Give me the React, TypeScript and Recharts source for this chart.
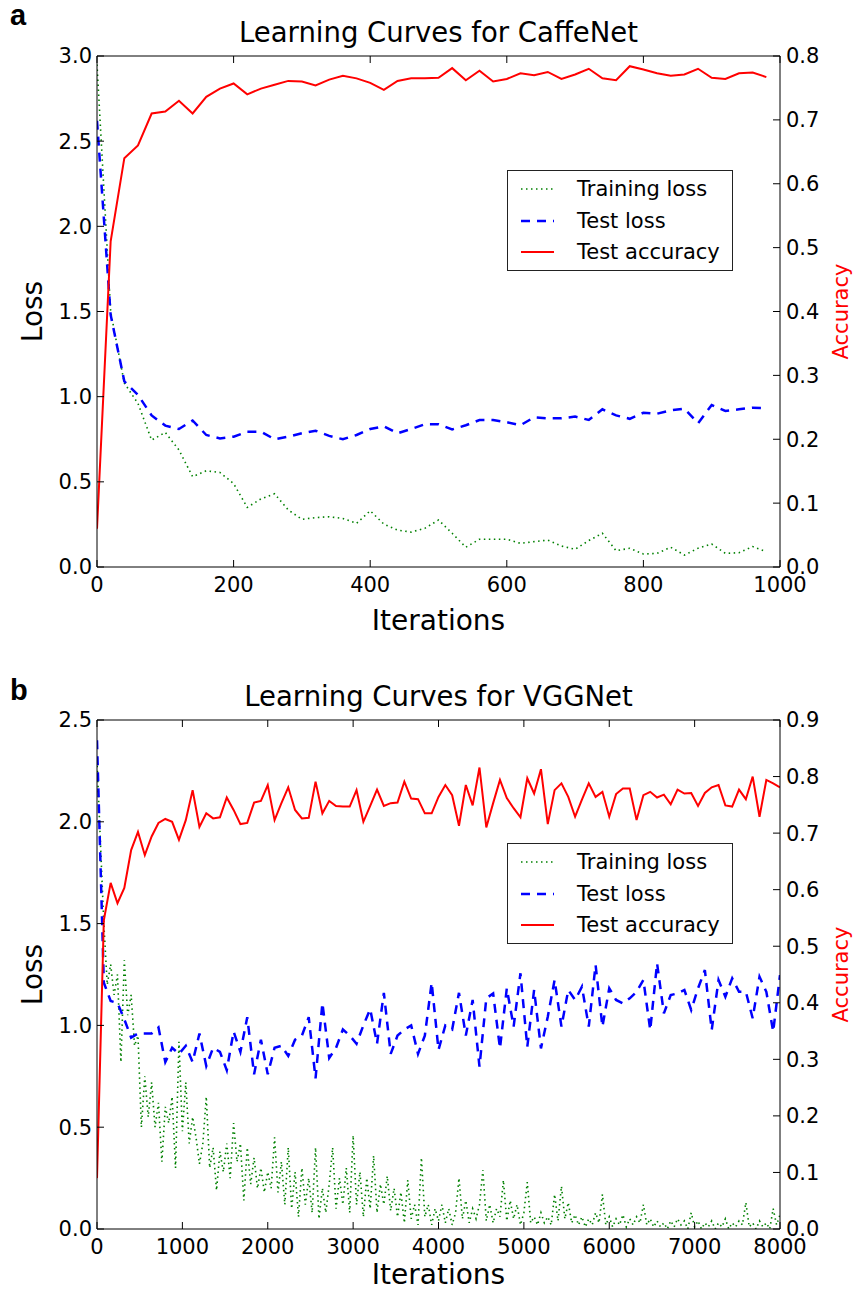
import React from 'react';
import { LineChart, Line, XAxis, YAxis, Legend, Label } from 'recharts';

const FONT = "'DejaVu Sans', 'Bitstream Vera Sans', sans-serif";

// ---------- Panel a: CaffeNet ----------
const caffeIter = [0, 20, 40, 60, 80, 100, 120, 140, 160, 180, 200, 220, 240, 260, 280, 300, 320, 340, 360, 380, 400, 420, 440, 460, 480, 500, 520, 540, 560, 580, 600, 620, 640, 660, 680, 700, 720, 740, 760, 780, 800, 820, 840, 860, 880, 900, 920, 940, 960, 980];
const caffeTrainLoss = [2.95, 1.5, 1.08, 0.96, 0.745, 0.79, 0.687, 0.53, 0.565, 0.555, 0.49, 0.35, 0.4, 0.43, 0.335, 0.28, 0.29, 0.295, 0.285, 0.256, 0.33, 0.252, 0.217, 0.205, 0.227, 0.276, 0.198, 0.116, 0.163, 0.163, 0.163, 0.139, 0.149, 0.158, 0.123, 0.104, 0.155, 0.198, 0.096, 0.11, 0.076, 0.08, 0.116, 0.07, 0.11, 0.135, 0.08, 0.084, 0.12, 0.09];
const caffeTestLoss = [2.62, 1.48, 1.09, 1.01, 0.89, 0.83, 0.81, 0.86, 0.775, 0.755, 0.765, 0.794, 0.794, 0.75, 0.765, 0.785, 0.8, 0.77, 0.75, 0.775, 0.81, 0.826, 0.785, 0.81, 0.838, 0.838, 0.808, 0.832, 0.863, 0.863, 0.85, 0.832, 0.879, 0.873, 0.873, 0.883, 0.863, 0.926, 0.89, 0.87, 0.906, 0.9, 0.92, 0.93, 0.844, 0.951, 0.916, 0.926, 0.935, 0.932];
const caffeAcc = [0.06, 0.51, 0.64, 0.66, 0.71, 0.713, 0.73, 0.71, 0.736, 0.749, 0.757, 0.74, 0.749, 0.755, 0.761, 0.76, 0.754, 0.763, 0.769, 0.765, 0.758, 0.747, 0.761, 0.765, 0.765, 0.766, 0.781, 0.762, 0.777, 0.76, 0.764, 0.773, 0.77, 0.775, 0.764, 0.771, 0.78, 0.765, 0.762, 0.784, 0.779, 0.773, 0.769, 0.771, 0.78, 0.766, 0.764, 0.773, 0.774, 0.767];
const caffeXTicks = [0, 200, 400, 600, 800, 1000];
const caffeLossTicks = [0, 0.5, 1.0, 1.5, 2.0, 2.5, 3.0];
const caffeAccTicks = [0, 0.1, 0.2, 0.3, 0.4, 0.5, 0.6, 0.7, 0.8];

// ---------- Panel b: VGGNet ----------
const vggIter = [0, 80, 160, 240, 320, 400, 480, 560, 640, 720, 800, 880, 960, 1040, 1120, 1200, 1280, 1360, 1440, 1520, 1600, 1680, 1760, 1840, 1920, 2000, 2080, 2160, 2240, 2320, 2400, 2480, 2560, 2640, 2720, 2800, 2880, 2960, 3040, 3120, 3200, 3280, 3360, 3440, 3520, 3600, 3680, 3760, 3840, 3920, 4000, 4080, 4160, 4240, 4320, 4400, 4480, 4560, 4640, 4720, 4800, 4880, 4960, 5040, 5120, 5200, 5280, 5360, 5440, 5520, 5600, 5680, 5760, 5840, 5920, 6000, 6080, 6160, 6240, 6320, 6400, 6480, 6560, 6640, 6720, 6800, 6880, 6960, 7040, 7120, 7200, 7280, 7360, 7440, 7520, 7600, 7680, 7760, 7840, 7920, 8000];
const vggAcc = [0.09, 0.546, 0.612, 0.576, 0.603, 0.67, 0.702, 0.661, 0.694, 0.718, 0.725, 0.72, 0.688, 0.723, 0.776, 0.711, 0.735, 0.726, 0.728, 0.763, 0.741, 0.716, 0.718, 0.754, 0.757, 0.785, 0.723, 0.753, 0.781, 0.741, 0.726, 0.727, 0.791, 0.735, 0.757, 0.748, 0.747, 0.747, 0.776, 0.72, 0.748, 0.777, 0.748, 0.753, 0.754, 0.791, 0.761, 0.76, 0.735, 0.735, 0.764, 0.785, 0.767, 0.713, 0.785, 0.749, 0.816, 0.71, 0.753, 0.794, 0.762, 0.744, 0.728, 0.797, 0.77, 0.813, 0.716, 0.776, 0.788, 0.764, 0.729, 0.759, 0.788, 0.764, 0.773, 0.729, 0.769, 0.779, 0.779, 0.723, 0.767, 0.773, 0.763, 0.768, 0.751, 0.777, 0.77, 0.771, 0.748, 0.771, 0.781, 0.785, 0.749, 0.747, 0.777, 0.76, 0.8, 0.729, 0.794, 0.788, 0.781];
const vggTestLoss = [2.4, 1.21, 1.12, 1.11, 1.03, 0.94, 0.96, 0.96, 0.96, 0.99, 0.82, 0.89, 0.86, 0.9, 0.82, 0.96, 0.8, 0.89, 0.87, 0.78, 0.97, 0.87, 1.04, 0.76, 0.93, 0.76, 0.89, 0.9, 0.85, 0.93, 0.95, 1.04, 0.74, 1.11, 0.84, 0.89, 0.98, 0.95, 0.91, 1.0, 1.08, 0.91, 1.16, 0.86, 0.95, 0.98, 1.0, 0.86, 0.95, 1.21, 0.88, 1.0, 0.98, 1.16, 0.95, 1.125, 0.797, 1.133, 1.157, 0.887, 1.182, 0.994, 1.256, 0.895, 1.174, 0.887, 1.043, 1.223, 0.994, 1.174, 1.125, 1.19, 0.994, 1.297, 0.994, 1.182, 1.125, 1.108, 1.133, 1.165, 1.223, 0.977, 1.305, 1.059, 1.149, 1.157, 1.174, 1.076, 1.182, 1.272, 0.977, 1.223, 1.141, 1.231, 1.165, 1.165, 1.035, 1.239, 1.165, 0.969, 1.247];
const vggTrainIter = [0, 40, 80, 120, 160, 200, 240, 280, 320, 360, 400, 440, 480, 520, 560, 600, 640, 680, 720, 760, 800, 840, 880, 920, 960, 1000, 1040, 1080, 1120, 1160, 1200, 1240, 1280, 1320, 1360, 1400, 1440, 1480, 1520, 1560, 1600, 1640, 1680, 1720, 1760, 1800, 1840, 1880, 1920, 1960, 2000, 2040, 2080, 2120, 2160, 2200, 2240, 2280, 2320, 2360, 2400, 2440, 2480, 2520, 2560, 2600, 2640, 2680, 2720, 2760, 2800, 2840, 2880, 2920, 2960, 3000, 3040, 3080, 3120, 3160, 3200, 3240, 3280, 3320, 3360, 3400, 3440, 3480, 3520, 3560, 3600, 3640, 3680, 3720, 3760, 3800, 3840, 3880, 3920, 3960, 4000, 4040, 4080, 4120, 4160, 4200, 4240, 4280, 4320, 4360, 4400, 4440, 4480, 4520, 4560, 4600, 4640, 4680, 4720, 4760, 4800, 4840, 4880, 4920, 4960, 5000, 5040, 5080, 5120, 5160, 5200, 5240, 5280, 5320, 5360, 5400, 5440, 5480, 5520, 5560, 5600, 5640, 5680, 5720, 5760, 5800, 5840, 5880, 5920, 5960, 6000, 6040, 6080, 6120, 6160, 6200, 6240, 6280, 6320, 6360, 6400, 6440, 6480, 6520, 6560, 6600, 6640, 6680, 6720, 6760, 6800, 6840, 6880, 6920, 6960, 7000, 7040, 7080, 7120, 7160, 7200, 7240, 7280, 7320, 7360, 7400, 7440, 7480, 7520, 7560, 7600, 7640, 7680, 7720, 7760, 7800, 7840, 7880, 7920, 7960, 8000];
const vggTrainLoss = [2.3, 1.9, 1.5, 1.2, 1.3, 1.15, 1.25, 0.82, 1.32, 1.05, 1.15, 0.9, 0.95, 0.5, 0.75, 0.55, 0.72, 0.5, 0.62, 0.33, 0.6, 0.52, 0.65, 0.3, 0.92, 0.48, 0.72, 0.42, 0.55, 0.45, 0.32, 0.42, 0.65, 0.3, 0.4, 0.19, 0.38, 0.28, 0.42, 0.25, 0.52, 0.33, 0.42, 0.14, 0.4, 0.22, 0.35, 0.2, 0.3, 0.18, 0.28, 0.2, 0.45, 0.18, 0.33, 0.12, 0.4, 0.1, 0.28, 0.06, 0.3, 0.12, 0.25, 0.08, 0.4, 0.05, 0.2, 0.08, 0.22, 0.4, 0.1, 0.25, 0.12, 0.3, 0.08, 0.46, 0.12, 0.28, 0.06, 0.25, 0.1, 0.36, 0.08, 0.22, 0.12, 0.26, 0.09, 0.2, 0.06, 0.18, 0.03, 0.24, 0.05, 0.12, 0.02, 0.35, 0.06, 0.12, 0.02, 0.1, 0.04, 0.12, 0.03, 0.1, 0.02, 0.08, 0.25, 0.05, 0.14, 0.03, 0.1, 0.05, 0.12, 0.29, 0.04, 0.12, 0.03, 0.1, 0.06, 0.24, 0.04, 0.14, 0.05, 0.12, 0.02, 0.08, 0.23, 0.03, 0.06, 0.02, 0.08, 0.03, 0.06, 0.02, 0.17, 0.04, 0.21, 0.05, 0.13, 0.03, 0.07, 0.02, 0.06, 0.01, 0.05, 0.02, 0.08, 0.03, 0.17, 0.02, 0.06, 0.01, 0.05, 0.02, 0.07, 0.01, 0.05, 0.02, 0.06, 0.03, 0.12, 0.02, 0.05, 0.01, 0.04, 0.01, 0.03, 0.0, 0.04, 0.01, 0.05, 0.02, 0.04, 0.0, 0.08, 0.01, 0.04, 0.0, 0.03, 0.01, 0.04, 0.0, 0.03, 0.01, 0.05, 0.0, 0.03, 0.01, 0.04, 0.02, 0.13, 0.01, 0.03, 0.0, 0.04, 0.01, 0.03, 0.0, 0.1, 0.02, 0.07];
const vggXTicks = [0, 1000, 2000, 3000, 4000, 5000, 6000, 7000, 8000];
const vggLossTicks = [0, 0.5, 1.0, 1.5, 2.0, 2.5];
const vggAccTicks = [0, 0.1, 0.2, 0.3, 0.4, 0.5, 0.6, 0.7, 0.8, 0.9];

const seriesNames = ['Training loss', 'Test loss', 'Test accuracy'];

const zip = (xs: number[], ys: number[]) => xs.map((x, i) => ({ iter: x, v: ys[i] }));

const GREEN = '#008000';
const BLUE = '#0000ff';
const RED = '#ff0000';

const W = 862;
const PLOT_LEFT = 97;
const PLOT_RIGHT = 780;
const RIGHT_AXIS_W = 60;
const TICK = -7;

const tickStyle = { fontSize: 21, fill: '#000', fontFamily: FONT };

const LegendBox = (props: any) => {
  const items = [...(props.payload || [])].sort(
    (a: any, b: any) => seriesNames.indexOf(a.value) - seriesNames.indexOf(b.value)
  );
  return (
    <div
      style={{
        width: 226,
        height: 101,
        border: '1px solid #222',
        background: '#fff',
        boxSizing: 'border-box',
        position: 'relative',
        fontFamily: FONT,
        fontSize: 21,
        color: '#000',
      }}
    >
      {items.map((it: any, i: number) => (
        <div
          key={it.value}
          style={{ position: 'absolute', left: 0, top: 3 + i * 31.5, height: 30, width: 224 }}
        >
          <svg width={60} height={30} style={{ position: 'absolute', left: 0, top: 0 }}>
            <line
              x1={13}
              x2={46}
              y1={15}
              y2={15}
              stroke={it.color}
              strokeWidth={it.payload?.strokeWidth ?? 2}
              strokeDasharray={it.payload?.strokeDasharray}
            />
          </svg>
          <span style={{ position: 'absolute', left: 69, top: 2, lineHeight: '26px', whiteSpace: 'nowrap' }}>
            {it.value}
          </span>
        </div>
      ))}
    </div>
  );
};

type PanelProps = {
  top: number;
  height: number;
  plotTop: number;
  plotBottom: number;
  legendTop: number;
  xLabelOffset: number;
  xTicks: number[];
  xMax: number;
  lossTicks: number[];
  lossMax: number;
  accTicks: number[];
  accMax: number;
  train: { iter: number; v: number }[];
  test: { iter: number; v: number }[];
  acc: { iter: number; v: number }[];
};

const Panel = (p: PanelProps) => {
  const topAxisH = 1;
  const xAxisH = 40;
  const marginTop = p.plotTop - p.top - topAxisH;
  const marginBottom = p.top + p.height - p.plotBottom - xAxisH;
  const centerY = (p.plotTop + p.plotBottom) / 2 - p.top;
  return (
    <div style={{ position: 'absolute', left: 0, top: p.top, width: W, height: p.height }}>
      <LineChart
        width={W}
        height={p.height}
        margin={{ top: marginTop, right: W - PLOT_RIGHT - RIGHT_AXIS_W, left: 0, bottom: marginBottom }}
      >
        <XAxis
          xAxisId="main"
          dataKey="iter"
          type="number"
          domain={[0, p.xMax]}
          ticks={p.xTicks}
          interval={0}
          height={xAxisH}
          tickSize={TICK}
          tickMargin={17}
          tick={tickStyle}
          stroke="#000"
          tickLine={{ stroke: '#000' }}
          allowDataOverflow
        >
          <Label
            content={(lp: any) => {
              const vb = lp.viewBox || {};
              return (
                <text
                  x={vb.x + vb.width / 2}
                  y={vb.y + p.xLabelOffset}
                  textAnchor="middle"
                  fontFamily={FONT}
                  fontSize={28}
                  fill="#000"
                >
                  Iterations
                </text>
              );
            }}
          />
        </XAxis>
        <XAxis
          xAxisId="top"
          orientation="top"
          dataKey="iter"
          type="number"
          domain={[0, p.xMax]}
          ticks={p.xTicks}
          interval={0}
          height={topAxisH}
          tickSize={TICK}
          tick={() => <g />}
          stroke="#000"
          tickLine={{ stroke: '#000' }}
          allowDataOverflow
        />
        <YAxis
          yAxisId="loss"
          type="number"
          domain={[0, p.lossMax]}
          ticks={p.lossTicks}
          interval={0}
          width={PLOT_LEFT}
          tickSize={TICK}
          tickMargin={12}
          tick={tickStyle}
          tickFormatter={(v: number) => v.toFixed(1)}
          stroke="#000"
          tickLine={{ stroke: '#000' }}
          allowDataOverflow
        >
          <Label
            content={() => (
              <text
                x={42}
                y={centerY}
                transform={`rotate(-90, 42, ${centerY})`}
                textAnchor="middle"
                fontFamily={FONT}
                fontSize={28}
                fill="#000"
              >
                Loss
              </text>
            )}
          />
        </YAxis>
        <YAxis
          yAxisId="acc"
          orientation="right"
          type="number"
          domain={[0, p.accMax]}
          ticks={p.accTicks}
          interval={0}
          width={RIGHT_AXIS_W}
          tickSize={TICK}
          tickMargin={13}
          tick={{ ...tickStyle, textAnchor: 'start' }}
          tickFormatter={(v: number) => v.toFixed(1)}
          stroke="#000"
          tickLine={{ stroke: '#000' }}
          allowDataOverflow
        >
          <Label
            content={() => (
              <text
                x={848}
                y={centerY}
                transform={`rotate(-90, 848, ${centerY})`}
                textAnchor="middle"
                fontFamily={FONT}
                fontSize={21}
                fill={RED}
              >
                Accuracy
              </text>
            )}
          />
        </YAxis>
        <Legend
          layout="vertical"
          align="center"
          verticalAlign="middle"
          content={<LegendBox />}
          wrapperStyle={{ left: 507, top: p.legendTop - p.top, width: 226, height: 101 }}
        />
        <Line
          xAxisId="main"
          yAxisId="loss"
          data={p.train}
          dataKey="v"
          name={seriesNames[0]}
          stroke={GREEN}
          strokeWidth={1.6}
          strokeDasharray="1.5 3.5"
          dot={false}
          activeDot={false}
          isAnimationActive={false}
        />
        <Line
          xAxisId="main"
          yAxisId="loss"
          data={p.test}
          dataKey="v"
          name={seriesNames[1]}
          stroke={BLUE}
          strokeWidth={2.5}
          strokeDasharray="9 7"
          dot={false}
          activeDot={false}
          isAnimationActive={false}
        />
        <Line
          xAxisId="main"
          yAxisId="acc"
          data={p.acc}
          dataKey="v"
          name={seriesNames[2]}
          stroke={RED}
          strokeWidth={2}
          dot={false}
          activeDot={false}
          isAnimationActive={false}
        />
      </LineChart>
    </div>
  );
};

export default function App() {
  return (
    <div
      style={{
        position: 'absolute',
        left: 0,
        top: 0,
        width: W,
        height: 1292,
        overflow: 'hidden',
        background: '#fff',
      }}
    >
      <Panel
        top={0}
        height={640}
        plotTop={56}
        plotBottom={567}
        legendTop={170}
        xLabelOffset={63}
        xTicks={caffeXTicks}
        xMax={1000}
        lossTicks={caffeLossTicks}
        lossMax={3}
        accTicks={caffeAccTicks}
        accMax={0.8}
        train={zip(caffeIter, caffeTrainLoss)}
        test={zip(caffeIter, caffeTestLoss)}
        acc={zip(caffeIter, caffeAcc)}
      />
      <Panel
        top={660}
        height={632}
        plotTop={720}
        plotBottom={1229}
        legendTop={843}
        xLabelOffset={55}
        xTicks={vggXTicks}
        xMax={8000}
        lossTicks={vggLossTicks}
        lossMax={2.5}
        accTicks={vggAccTicks}
        accMax={0.9}
        train={zip(vggTrainIter, vggTrainLoss)}
        test={zip(vggIter, vggTestLoss)}
        acc={zip(vggIter, vggAcc)}
      />
      <svg width={W} height={1292} style={{ position: 'absolute', left: 0, top: 0, pointerEvents: 'none' }}>
        <text x={10} y={25} fontFamily="'Liberation Sans', Arial, sans-serif" fontWeight="bold" fontSize={29} fill="#000">
          a
        </text>
        <text x={438.5} y={42} textAnchor="middle" fontFamily={FONT} fontSize={27.5} fill="#000">
          Learning Curves for CaffeNet
        </text>
        <text x={10} y={700} fontFamily="'Liberation Sans', Arial, sans-serif" fontWeight="bold" fontSize={29} fill="#000">
          b
        </text>
        <text x={438.5} y={706} textAnchor="middle" fontFamily={FONT} fontSize={27.5} fill="#000">
          Learning Curves for VGGNet
        </text>
      </svg>
    </div>
  );
}
